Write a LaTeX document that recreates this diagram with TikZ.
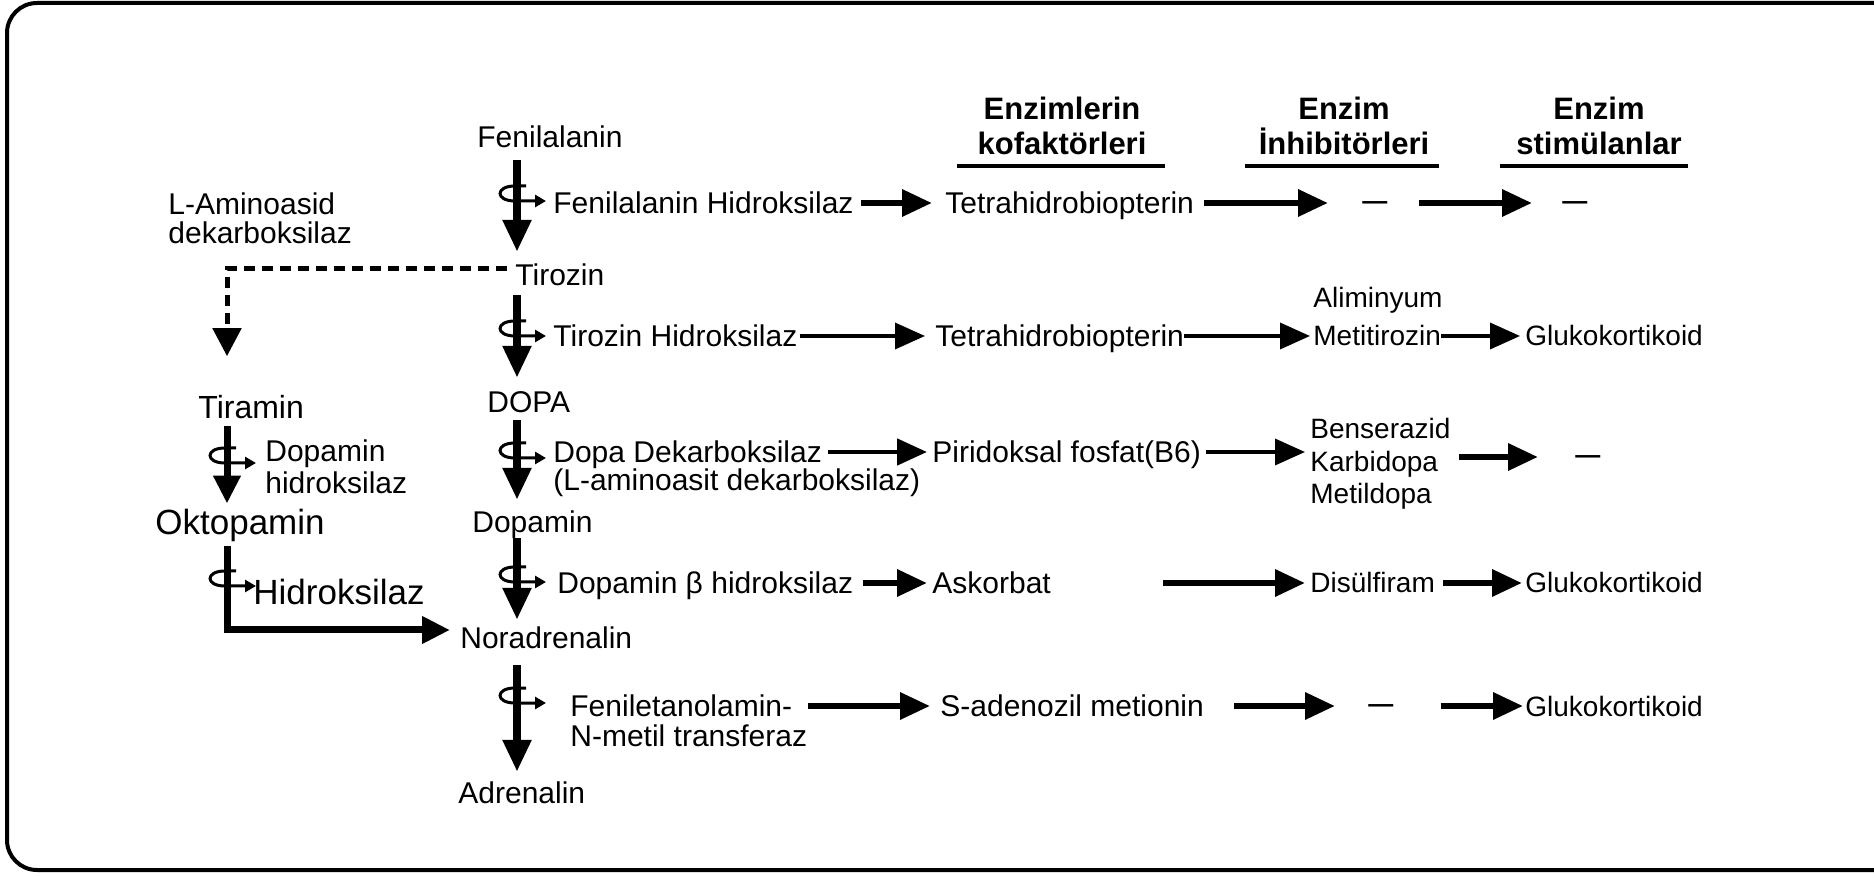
\documentclass[tikz,border=0pt]{standalone}
\usepackage{fontspec}
\setmainfont{Liberation Sans}
\usetikzlibrary{arrows.meta}
\begin{document}
\begin{tikzpicture}[x=0.5pt,y=-0.5pt,
  txt/.style={inner sep=0pt, anchor=west, text height=10.7pt, text depth=0pt, font=\fontsize{15}{15}\selectfont},
  txtsm/.style={txt, text height=10pt, font=\fontsize{14}{14}\selectfont},
  txtbig/.style={txt, text height=12pt, font=\fontsize{17.5}{17.5}\selectfont},
  dashn/.style={inner sep=0pt, anchor=west, text height=6.6pt, text depth=0pt, font=\bfseries\fontsize{12.5}{12.5}\selectfont},
  mline/.style={inner sep=0pt, anchor=north west, align=left},
  hdr/.style={inner sep=0pt, anchor=north, align=center, font=\bfseries\fontsize{15.5}{17.5}\selectfont},
  mainarr/.style={line width=4pt, -{Triangle[length=16pt,width=13.5pt]}},
  sidearr/.style={line width=3.5pt, -{Triangle[length=14pt,width=13pt]}},
  dasharr/.style={line width=2.5pt, dash pattern=on 5.5pt off 3.5pt, -{Triangle[length=14pt,width=14pt]}},
  harr/.style={line width=3.2pt, -{Triangle[length=15pt,width=13pt]}},
  harrmid/.style={harr, line width=2.4pt},
  harrthin/.style={harr, line width=1.8pt},
  enzline/.style={line width=1.5pt, -{Triangle[length=5.5pt,width=6pt]}},
  uline/.style={line width=2pt},
  frameline/.style={line width=2pt, rounded corners=15pt},
  enzsym/.pic={\draw[enzline] (9,0) -- (-2,0) .. controls (-22,0) and (-22,15) .. (-2,15) -- (29,15);}
]
\useasboundingbox (0,0) rectangle (1874,876);
\draw[frameline] (1874,3) -- (7,3) -- (7,870) -- (1874,870);

% headers
\node[hdr] (h1) at (1062,97) {Enzimlerin\\kofaktörleri};
\node[hdr] (h2) at (1344,97) {Enzim\\İnhibitörleri};
\node[hdr] (h3) at (1599,97) {Enzim\\stimülanlar};
\draw[uline] (957,166) -- (1165,166);
\draw[uline] (1245,166) -- (1439,166);
\draw[uline] (1500,166) -- (1688,166);

% main column
\coordinate (sx) at (517,0);
\coordinate (lx) at (227,0);
\node[txt] (fen) at (477,137) {Fenilalanin};
\node[txt] (tir) at (515,275) {Tirozin};
\node[txt] (dopa) at (487,402) {DOPA};
\node[txt] (dopm) at (472,522) {Dopamin};
\node[txt] (nor) at (460,638) {Noradrenalin};
\node[txt] (adr) at (458,793) {Adrenalin};

\draw[mainarr, shorten <=6pt, shorten >=6pt] (sx|-fen.south) -- (sx|-tir.north);
\draw[mainarr, shorten <=4.5pt, shorten >=6.5pt] (sx|-tir.south) -- (sx|-dopa.north);
\draw[mainarr, shorten <=3.5pt, shorten >=5.5pt] (sx|-dopa.south) -- (sx|-dopm.north);
\draw[mainarr, shorten <=2.5pt, shorten >=3.5pt] (sx|-dopm.south) -- (sx|-nor.north);
\draw[mainarr, shorten <=8pt, shorten >=5pt] (sx|-nor.south) -- (sx|-adr.north);

\pic at (517,186) {enzsym};
\pic at (517,321) {enzsym};
\pic at (517,443) {enzsym};
\pic at (517,567) {enzsym};
\pic at (517,688) {enzsym};

% left column
\node[mline, font=\fontsize{15}{14.5}\selectfont] (lad) at (168,192) {L-Aminoasid\\dekarboksilaz};
\node[txt, text height=11.4pt, font=\fontsize{16}{16}\selectfont] (tira) at (198,407) {Tiramin};
\node[mline, font=\fontsize{15}{16}\selectfont] (dh) at (265,439) {Dopamin\\hidroksilaz};
\node[txtbig] (okt) at (155,523) {Oktopamin};
\node[txtbig] (hid) at (253,593) {Hidroksilaz};

\draw[dasharr, shorten <=4pt, shorten >=19.5pt] ([yshift=3pt]tir.west) -| (lx|-tira.north);
\draw[sidearr, shorten <=3.5pt, shorten >=3.5pt] (lx|-tira.south) -- (lx|-okt.north);
\draw[sidearr, shorten <=5.5pt, shorten >=5pt] (lx|-okt.south) |- ([yshift=4pt]nor.west);
\pic at (227,448) {enzsym};
\pic at (227,571) {enzsym};

% enzymes
\node[txt] (fh) at (553,203) {Fenilalanin Hidroksilaz};
\node[txt] (th) at (553,336) {Tirozin Hidroksilaz};
\node[txt] (dd) at (553,452) {Dopa Dekarboksilaz};
\node[txt] (ld) at (553,480) {(L-aminoasit dekarboksilaz)};
\node[txt] (dbh) at (557,583) {Dopamin β hidroksilaz};
\node[mline, font=\fontsize{15}{15}\selectfont] (fnmt) at (570,694) {Feniletanolamin-\\N-metil transferaz};

% cofactors
\node[txt] (tet1) at (945,203) {Tetrahidrobiopterin};
\node[txt] (tet2) at (935,336) {Tetrahidrobiopterin};
\node[txt] (pir) at (932,452) {Piridoksal fosfat(B6)};
\node[txt] (ask) at (932,583) {Askorbat};
\node[txt] (sam) at (940,706) {S-adenozil metionin};

% inhibitors
\node[dashn] (d1) at (1362,203) {—};
\node[txtsm] (ali) at (1313,298) {Aliminyum};
\node[txtsm] (met) at (1313,336) {Metitirozin};
\node[mline, font=\fontsize{14}{16.25}\selectfont] (bkm) at (1310,418) {Benserazid\\Karbidopa\\Metildopa};
\node[txtsm] (dis) at (1310,583) {Disülfiram};
\node[dashn] (d5) at (1368,706) {—};

% stimulants
\node[dashn] (d1b) at (1562,203) {—};
\node[txtsm] (g2) at (1525,336) {Glukokortikoid};
\node[dashn] (d3) at (1575,457) {—};
\node[txtsm] (g4) at (1525,583) {Glukokortikoid};
\node[txtsm] (g5) at (1525,706) {Glukokortikoid};

% row arrows
\draw[harr, shorten <=3.5pt, shorten >=6.5pt] (fh.east) -- (tet1.west);
\draw[harr, shorten <=5pt, shorten >=17pt] (tet1.east) -- (d1.west);
\draw[harr, shorten <=15.5pt, shorten >=15pt] (d1.east) -- (d1b.west);

\draw[harrthin, shorten <=1pt, shorten >=5pt] (th.east) -- (tet2.west);
\draw[harrthin, shorten >=1.5pt] (tet2.east) -- (met.west);
\draw[harrthin, shorten >=2.5pt] (met.east) -- (g2.west);

\draw[harrmid, shorten <=3pt, shorten >=2.5pt] (dd.east) -- (pir.west);
\draw[harrthin, shorten <=2.5pt, shorten >=2.5pt] (pir.east) -- (pir.east -| bkm.west);
\draw[harr, shorten <=4pt, shorten >=18.5pt] (bkm.east |- d3.west) -- (d3.west);

\draw[harr, shorten <=4.5pt, shorten >=2.5pt] (dbh.east) -- (ask.west);
\draw[harr, shorten <=56pt, shorten >=2.5pt] (ask.east) -- (dis.west);
\draw[harr, shorten <=4pt, shorten >=1.5pt] (dis.east) -- (g4.west);

\draw[harr, shorten <=0pt, shorten >=5pt] (fnmt.east |- sam.west) -- (sam.west);
\draw[harr, shorten <=15pt, shorten >=16.5pt] (sam.east) -- (d5.west);
\draw[harr, shorten <=23.5pt, shorten >=1pt] (d5.east) -- (g5.west);
\end{tikzpicture}
\end{document}
